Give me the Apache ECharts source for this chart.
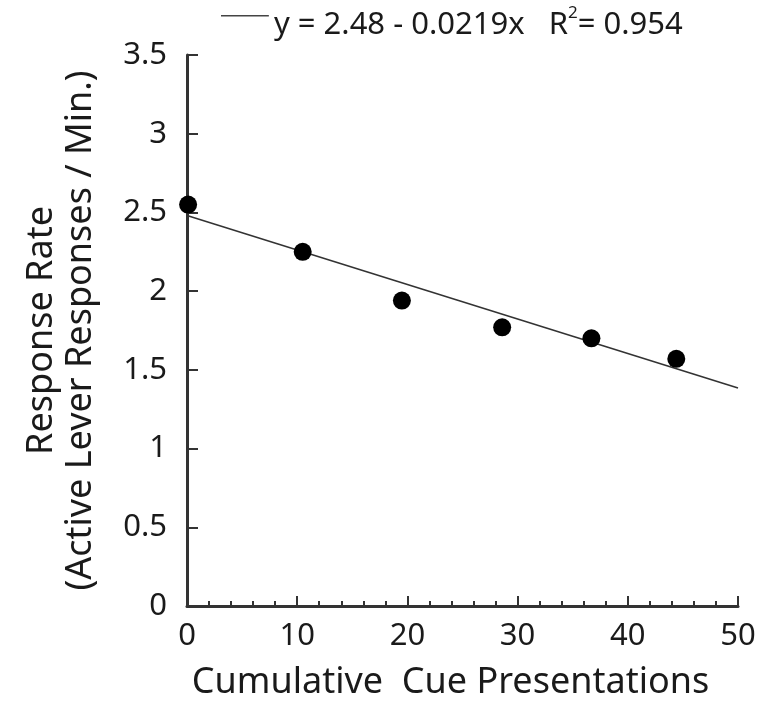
<!DOCTYPE html>
<html>
<head>
<meta charset="utf-8">
<script src="https://cdn.jsdelivr.net/npm/echarts@6/dist/echarts.min.js"></script>
<style>
  html, body { margin: 0; padding: 0; background: #fff; }
  #chart { width: 760px; height: 706px; }
</style>
</head>
<body>
<div id="chart"></div>
<script>
const cuePresentations = [0.1, 10.5, 19.5, 28.6, 36.7, 44.4];
const responseRate = [2.55, 2.25, 1.94, 1.77, 1.70, 1.57];

// fitted line y = 2.48 - 0.0219x, endpoints at x = 0 and x = 50
const fitX = [0, 50];
const fitY = [2.48, 1.385];
const fitLabel = "y = 2.48 - 0.0219x";
const r2Label = "0.954";

document.addEventListener("DOMContentLoaded", function () {
  const chart = echarts.init(document.getElementById("chart"));
  const font = "Noto Sans";
  const ink = "#1a1a1a";
  const axisInk = "#333";

  const option = {
    animation: false,
    grid: { left: 187, right: 22, top: 55, bottom: 100, outerBoundsMode: "none" },
    legend: {
      data: ["fit"],
      top: 0,
      left: 216,
      itemWidth: 48,
      itemHeight: 16,
      itemGap: 4,
      // thin line drawn at the top of the icon box (tiny dot keeps the box height)
      icon: "path://M0,0H48V1.6H0Z M0,16H0.05V16.05H0Z",
      itemStyle: { color: "#444" },
      formatter: function () {
        return "{a|" + fitLabel + "   R}{sup|2}{a|= " + r2Label + "}";
      },
      textStyle: {
        fontFamily: font,
        color: ink,
        rich: {
          a: { fontFamily: font, fontSize: 31, color: ink, verticalAlign: "bottom", lineHeight: 36 },
          sup: { fontFamily: font, fontSize: 17, color: ink, verticalAlign: "top", lineHeight: 36, padding: [0, 0, 15, 0] }
        }
      }
    },
    xAxis: {
      type: "value",
      min: 0,
      max: 50,
      interval: 10,
      name: "Cumulative  Cue Presentations",
      nameLocation: "middle",
      nameGap: 59,
      nameMoveOverlap: false,
      nameTextStyle: { fontFamily: font, fontSize: 36, color: ink, padding: [0, 24, 0, 0] },
      axisLine: { lineStyle: { color: axisInk, width: 3 } },
      axisTick: { inside: true, length: 10, lineStyle: { color: axisInk, width: 2 } },
      minorTick: { show: true, splitNumber: 5, length: 5, lineStyle: { color: axisInk, width: 2 } },
      axisLabel: { fontFamily: font, fontSize: 31, color: ink, margin: 15 },
      splitLine: { show: false }
    },
    yAxis: {
      type: "value",
      min: 0,
      max: 3.5,
      interval: 0.5,
      name: "Response Rate\n(Active Lever Responses / Min.)",
      nameLocation: "middle",
      nameGap: 87,
      nameMoveOverlap: false,
      nameTextStyle: { fontFamily: font, fontSize: 36, color: ink, lineHeight: 39 },
      axisLine: { show: true, lineStyle: { color: axisInk, width: 3 } },
      axisTick: { show: true, inside: true, length: 11, lineStyle: { color: axisInk, width: 2 } },
      axisLabel: { fontFamily: font, fontSize: 31, color: ink, margin: 20 },
      splitLine: { show: false }
    },
    series: [
      {
        name: "fit",
        type: "line",
        data: fitX.map((x, i) => [x, fitY[i]]),
        symbol: "none",
        color: "#444",
        lineStyle: { color: "#333", width: 1.6 },
        z: 2
      },
      {
        name: "data",
        type: "scatter",
        data: cuePresentations.map((x, i) => [x, responseRate[i]]),
        symbolSize: 18,
        itemStyle: { color: "#000", opacity: 1 },
        z: 3
      }
    ]
  };

  chart.setOption(option);
});
</script>
</body>
</html>
